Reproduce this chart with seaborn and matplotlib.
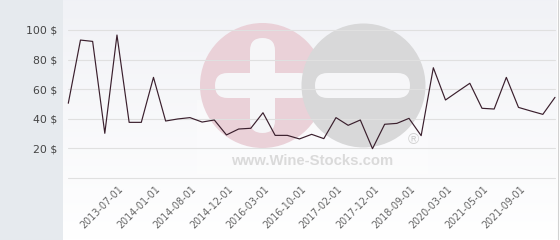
import numpy as np
import pandas as pd
import matplotlib
matplotlib.use("Agg")
import matplotlib.pyplot as plt
import matplotlib.transforms as mtransforms
from matplotlib.patches import Circle, FancyBboxPatch, Rectangle
import seaborn as sns

# ---- data ----
prices = [50.5, 93.2, 92.3, 30.2, 96.6, 37.6, 37.6, 68.0, 38.5, 39.9,
          40.8, 37.8, 39.2, 29.1, 33.1, 33.6, 44.1, 28.8, 28.8, 26.4,
          29.5, 26.6, 40.8, 35.6, 39.2, 19.8, 36.3, 36.9, 40.3, 28.6,
          74.5, 52.7, 58.4, 64.0, 47.1, 46.6, 68.0, 47.7, 45.3, 43.0,
          54.5]
tick_labels = ["2013-07-01", "2014-01-01", "2014-08-01", "2014-12-01",
               "2016-03-01", "2016-10-01", "2017-02-01", "2017-12-01",
               "2018-09-01", "2020-03-01", "2021-05-01", "2021-09-01"]
first_labelled = 4
label_step = 3
y_ticks = [0, 20, 40, 60, 80, 100]
y_tick_labels = ["", "20 $", "40 $", "60 $", "80 $", "100 $"]

df = pd.DataFrame({"idx": np.arange(len(prices)), "price": prices})

sns.set_theme(style="white")
plt.rcParams["font.family"] = ["DejaVu Sans"]

W, H = 560, 240
fig = plt.figure(figsize=(W / 100, H / 100), dpi=100)
fig.patch.set_facecolor("white")

# ---- background / decoration layer in pixel coordinates ----
bg = fig.add_axes([0, 0, 1, 1], zorder=0)
bg.set_xlim(0, W)
bg.set_ylim(H, 0)
bg.axis("off")
grad = np.linspace(0, 1, 200).reshape(-1, 1)
top = np.array([0.945, 0.949, 0.965])
bot = np.array([1.0, 1.0, 1.0])
img = top[None, None, :] * (1 - grad[:, :, None]) + bot[None, None, :] * grad[:, :, None]
bg.imshow(img, extent=[63, 557, H, 0], aspect="auto", zorder=0)
bg.add_patch(Rectangle((0, 0), 63, H, facecolor="#e6eaee", edgecolor="none", zorder=1))
bg.plot([557.5, 557.5], [0, H], color="#d2d2d2", lw=0.8, zorder=1)

# watermark
bg.add_patch(Rectangle((197, 100), 231, 74, facecolor="white", alpha=0.3,
                       edgecolor="none", zorder=1))
bg.add_patch(Circle((262.5, 85.5), 62.5, facecolor="#ead1d8", edgecolor="none", zorder=2))
bg.add_patch(Circle((363.5, 85.5), 62, facecolor="#d8d8d9", edgecolor="none", zorder=3))
barc = "#f6f6f8"
bg.add_patch(FancyBboxPatch((215, 73), 97, 25,
                            boxstyle="round,pad=0,rounding_size=12.5",
                            facecolor=barc, edgecolor="none", zorder=2.5))
bg.add_patch(FancyBboxPatch((250, 38), 25, 95,
                            boxstyle="round,pad=0,rounding_size=12.5",
                            facecolor=barc, edgecolor="none", zorder=2.5))
bg.add_patch(FancyBboxPatch((315, 73), 95, 25,
                            boxstyle="round,pad=0,rounding_size=12.5",
                            facecolor=barc, edgecolor="none", zorder=3.5))
bg.text(312, 161, "www.Wine-Stocks.com", ha="center", va="center",
        fontsize=10.7, fontweight="bold", color="#dadada",
        family=["Liberation Sans", "DejaVu Sans"], zorder=4)
bg.text(413, 140, "\u00ae", ha="center", va="center", fontsize=11,
        color="#d2d2d2", family=["Liberation Sans", "DejaVu Sans"], zorder=4)

# ---- main chart ----
x0, x1 = 68.3, 555.0
y0px, y1px = 178.0, 30.0          # pixel rows of 0 and 100
ppu = (y0px - y1px) / 100.0
top_px = 8.0
ax = fig.add_axes([x0 / W, (H - y0px) / H, (x1 - x0) / W, (y0px - top_px) / H], zorder=2)
ax.set_facecolor("none")
ax.set_xlim(0, len(prices) - 1)
ax.set_ylim(0, (y0px - top_px) / ppu)

sns.lineplot(data=df, x="idx", y="price", ax=ax, color="#3a1f2d",
             linewidth=0.85, clip_on=False)

ax.set_yticks(y_ticks)
ax.set_yticklabels(y_tick_labels)
ax.yaxis.grid(True, color="#e0e0e0", linewidth=0.8)
for gl in ax.get_ygridlines():
    gl.set_clip_on(False)
ax.xaxis.grid(False)
ax.set_axisbelow(True)
xt = [first_labelled + label_step * k for k in range(len(tick_labels))]
ax.set_xticks(xt)
ax.set_xticklabels(tick_labels, rotation=45, ha="right", va="center",
                   rotation_mode="anchor")
ax.tick_params(axis="y", length=0, pad=8, labelsize=7.8, labelcolor="#444444")
ax.tick_params(axis="x", length=0, pad=9, labelsize=6.9, labelcolor="#666666")
shift = mtransforms.ScaledTranslation(5 / 100, 3 / 100, fig.dpi_scale_trans)
for lab in ax.get_xticklabels():
    lab.set_transform(lab.get_transform() + shift)
for s in ax.spines.values():
    s.set_visible(False)
ax.set_xlabel("")
ax.set_ylabel("")

fig.savefig("out.png", dpi=100)
